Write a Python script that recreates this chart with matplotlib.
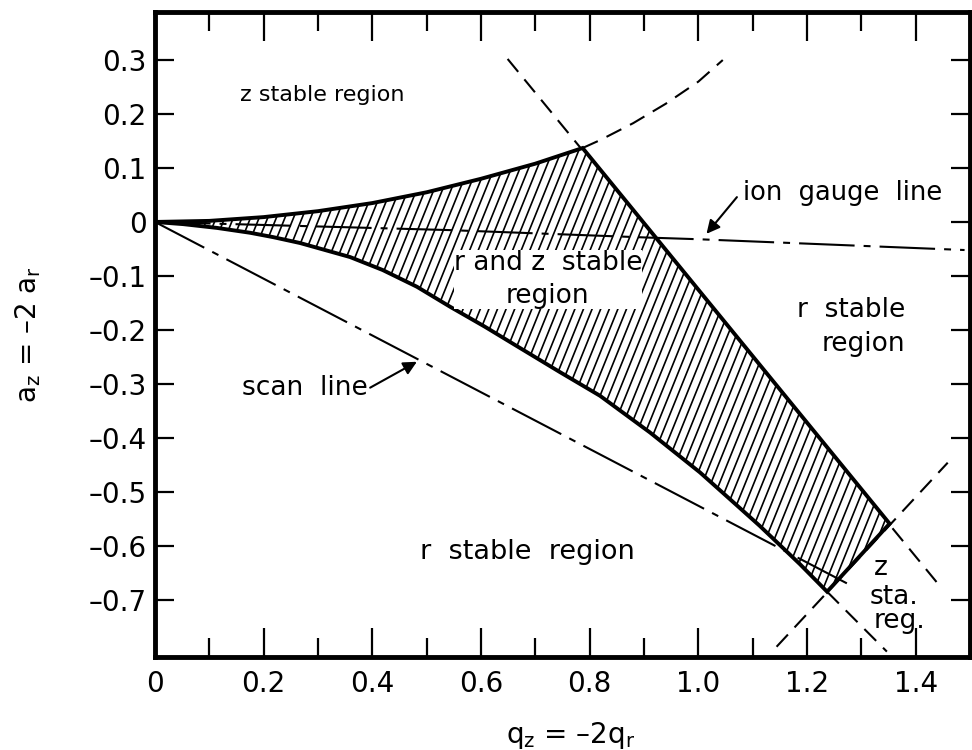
import numpy as np
import matplotlib
matplotlib.use("Agg")
import matplotlib.pyplot as plt
from matplotlib.patches import Polygon
from matplotlib.collections import LineCollection

plt.rcParams["font.family"] = ["DejaVu Sans"]
plt.rcParams["mathtext.fontset"] = "dejavusans"
plt.rcParams["axes.unicode_minus"] = False
plt.rcParams["lines.scale_dashes"] = False

# ---- stability boundaries in the (q_z, a_z) plane ----
# upper boundary (origin -> apex)
upper_q = [0.0, 0.1, 0.2, 0.3, 0.4, 0.5, 0.6, 0.7, 0.787]
upper_a = [0.0, 0.002, 0.009, 0.020, 0.035, 0.055, 0.080, 0.108, 0.137]
# corners of the stable region
right_corner = (1.352, -0.559)
bottom_corner = (1.237, -0.685)
# lower boundary (origin -> bottom corner)
lower_q = [0.0, 0.052, 0.114, 0.175, 0.217, 0.267, 0.313, 0.359, 0.419, 0.482,
           0.543, 0.607, 0.671, 0.745, 0.819, 0.911, 1.003, 1.052, 1.113, 1.187, 1.237]
lower_a = [0.0, -0.004, -0.011, -0.020, -0.028, -0.039, -0.052, -0.065, -0.089, -0.120,
           -0.157, -0.194, -0.233, -0.278, -0.322, -0.390, -0.464, -0.508, -0.563, -0.634, -0.685]

# continuations of the boundaries outside the stable region
upper_ext_q = [0.787, 0.82, 0.88, 0.94, 1.0, 1.045]
upper_ext_a = [0.137, 0.152, 0.183, 0.219, 0.260, 0.300]
right_line_q = [0.649, 1.44]
right_line_a = [0.302, -0.669]
short_line_q = [1.144, 1.459]
short_line_a = [-0.787, -0.446]
lower_ext_q = [1.237, 1.347]
lower_ext_a = [-0.685, -0.796]

# operating lines
scan_q = [0.0, 1.28]
scan_a = [0.0, -0.673]
gauge_q = [0.0, 0.54, 0.91, 1.0, 1.49]
gauge_a = [0.0, -0.015, -0.029, -0.032, -0.052]

DASH = "\u2013"
x_major = [0.0, 0.2, 0.4, 0.6, 0.8, 1.0, 1.2, 1.4]
x_labels = ["0", "0.2", "0.4", "0.6", "0.8", "1.0", "1.2", "1.4"]
x_minor = [0.1, 0.3, 0.5, 0.7, 0.9, 1.1, 1.3, 1.5]
y_major = [0.3, 0.2, 0.1, 0.0, -0.1, -0.2, -0.3, -0.4, -0.5, -0.6, -0.7]
y_labels = ["0.3", "0.2", "0.1", "0", DASH + "0.1", DASH + "0.2", DASH + "0.3",
            DASH + "0.4", DASH + "0.5", DASH + "0.6", DASH + "0.7"]

XLIM = (0.0, 1.5)
YLIM = (-0.806, 0.389)

fig = plt.figure(figsize=(9.72, 7.5), dpi=100)
ax = fig.add_axes([155 / 972, 1 - 657 / 750, 815 / 972, 645 / 750])
ax.set_xlim(*XLIM)
ax.set_ylim(*YLIM)

dash = (0, (12, 7))
dashdot = (0, (40, 6.5, 5, 6.5))
dlw = 1.5

# dashed continuations
ax.plot(upper_ext_q, upper_ext_a, color="black", lw=dlw, linestyle=dash, zorder=2)
ax.plot(right_line_q, right_line_a, color="black", lw=dlw, linestyle=dash, zorder=2)
ax.plot(short_line_q, short_line_a, color="black", lw=dlw, linestyle=dash, zorder=2)
ax.plot(lower_ext_q, lower_ext_a, color="black", lw=dlw, linestyle=dash, zorder=2)

# stable region polygon
verts = list(zip(upper_q, upper_a)) + [right_corner, bottom_corner] + \
    list(zip(lower_q[::-1], lower_a[::-1]))[1:]
region = Polygon(verts, closed=True, facecolor="white", edgecolor="none", zorder=3)
ax.add_patch(region)

# steep single hatching inside the region
fig_w_px = fig.get_figwidth() * fig.dpi * ax.get_position().width
fig_h_px = fig.get_figheight() * fig.dpi * ax.get_position().height
px_per_q = fig_w_px / (XLIM[1] - XLIM[0])
px_per_a = fig_h_px / (YLIM[1] - YLIM[0])
slope = np.tan(np.radians(68)) * px_per_q / px_per_a
dq = 8.6 / px_per_q
segs = []
for c in np.arange(-0.6, 1.6, dq):
    a0, a1 = -0.9, 0.5
    segs.append([(c, a0), (c + (a1 - a0) / slope, a1)])
hatch = LineCollection(segs, colors="black", linewidths=1.2, zorder=3.5)
ax.add_collection(hatch)
hatch.set_clip_path(region)

outline = Polygon(verts, closed=True, facecolor="none", edgecolor="black",
                  lw=2.8, joinstyle="miter", zorder=4)
ax.add_patch(outline)

# scan line and ion gauge line
ax.plot(scan_q, scan_a, color="black", lw=1.5, linestyle=dashdot, zorder=5)
ax.plot(gauge_q, gauge_a, color="black", lw=1.5, linestyle=dashdot, zorder=5)

# labels
ax.text(0.307, 0.236, "z stable region", fontsize=16, ha="center", va="center")
ax.text(0.723, -0.107, "r and z  stable\nregion", fontsize=19, ha="center",
        va="center", linespacing=1.35, zorder=6,
        bbox=dict(facecolor="white", edgecolor="none", pad=0.0))
ax.text(1.282, -0.194, "r  stable\nregion", fontsize=19, ha="center", va="center",
        multialignment="right", linespacing=1.4)
ax.text(0.686, -0.611, "r  stable  region", fontsize=19.5, ha="center", va="center")
ax.text(1.323, -0.654, "z", fontsize=19, ha="left", va="baseline")
ax.text(1.316, -0.707, "sta.", fontsize=19, ha="left", va="baseline")
ax.text(1.322, -0.752, "reg.", fontsize=19, ha="left", va="baseline")

ax.text(1.082, 0.054, "ion  gauge  line", fontsize=18.5, ha="left", va="center")
ax.annotate("", xy=(1.015, -0.022), xytext=(1.071, 0.046),
            arrowprops=dict(arrowstyle="-|>", color="black", lw=1.5,
                            mutation_scale=20, shrinkA=0, shrinkB=0))
ax.text(0.392, -0.307, "scan  line", fontsize=19, ha="right", va="center")
ax.annotate("", xy=(0.482, -0.259), xytext=(0.396, -0.307),
            arrowprops=dict(arrowstyle="-|>", color="black", lw=1.5,
                            mutation_scale=20, shrinkA=0, shrinkB=0))

# axes, ticks and axis titles
fs = 20
ax.set_xticks(x_major)
ax.set_xticklabels(x_labels)
ax.set_xticks(x_minor, minor=True)
ax.set_yticks(y_major)
ax.set_yticklabels(y_labels)
ax.tick_params(axis="x", which="major", direction="in", top=True, length=21,
               width=1.6, labelsize=fs, pad=9)
ax.tick_params(axis="x", which="minor", direction="in", top=True, length=14,
               width=1.6)
ax.tick_params(axis="y", which="major", direction="in", right=True, length=14,
               width=1.6, labelsize=fs, pad=6)
for sp in ax.spines.values():
    sp.set_linewidth(3.5)

ax.set_xlabel(r"$\mathrm{q_z}$ = " + DASH + r"2$\mathrm{q_r}$", fontsize=fs, va="center")
ax.xaxis.set_label_coords(0.51, -0.121)
ax.set_ylabel(r"$\mathrm{a_z}$ = " + DASH + r"2 $\mathrm{a_r}$", fontsize=fs, va="center")
ax.yaxis.set_label_coords(-0.156, 0.5)

fig.savefig("out.png", dpi=100)
